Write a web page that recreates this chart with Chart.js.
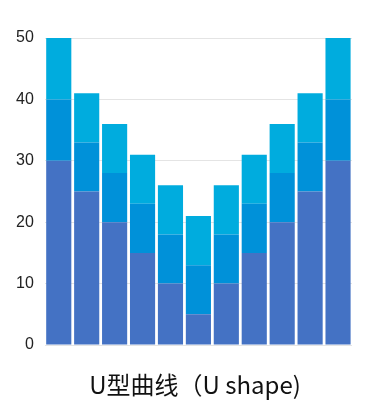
<!DOCTYPE html>
<html>
<head>
<meta charset="utf-8">
<script src="https://cdn.jsdelivr.net/npm/chart.js@4/dist/chart.umd.min.js"></script>
<style>
html,body{margin:0;padding:0;background:#fff;}
#wrap{width:383px;height:416px;}
</style>
</head>
<body>
<div id="wrap"><canvas id="c" width="383" height="416"></canvas></div>
<script>
const categories = ["1","2","3","4","5","6","7","8","9","10","11"];
const seriesBottom = [30,25,20,15,10,5,10,15,20,25,30];
const seriesMiddle = [10,8,8,8,8,8,8,8,8,8,10];
const seriesTop = [10,8,8,8,8,8,8,8,8,8,10];
const yTicks = [0,10,20,30,40,50];
const titleText = "U型曲线（U shape)";

const bottomTitle = {
  id:'bottomTitle',
  afterDraw(chart){
    const ctx = chart.ctx;
    ctx.save();
    ctx.font = "24px 'Noto Sans CJK SC', 'Noto Sans', sans-serif";
    ctx.fillStyle = '#111';
    ctx.textAlign = 'center';
    ctx.textBaseline = 'middle';
    ctx.fillText(titleText, 195, 385);
    ctx.restore();
  }
};

new Chart(document.getElementById('c'), {
  type: 'bar',
  data: {
    labels: categories,
    datasets: [
      {label:'A', data: seriesBottom, backgroundColor:'#4472C4', barPercentage:0.9, categoryPercentage:1.0},
      {label:'B', data: seriesMiddle, backgroundColor:'#0091D9', barPercentage:0.9, categoryPercentage:1.0},
      {label:'C', data: seriesTop, backgroundColor:'#00ACDE', barPercentage:0.9, categoryPercentage:1.0}
    ]
  },
  options: {
    responsive:false,
    animation:false,
    devicePixelRatio:1,
    layout:{padding:{left:5,right:31,top:38,bottom:63}},
    plugins:{
      legend:{display:false},
      tooltip:{enabled:false},
      title:{display:false}
    },
    scales:{
      x:{stacked:true, ticks:{display:false}, grid:{display:false}, border:{display:false}},
      y:{stacked:true, min:0, max:50,
        afterBuildTicks:(ax)=>{ax.ticks = yTicks.map(v=>({value:v}));},
        ticks:{color:'#222', font:{family:"'Liberation Sans', Arial, sans-serif", size:16}, padding:11},
        grid:{color:'#e4e4e4', drawTicks:false},
        border:{display:false}}
    }
  },
  plugins:[bottomTitle]
});
</script>
</body>
</html>
